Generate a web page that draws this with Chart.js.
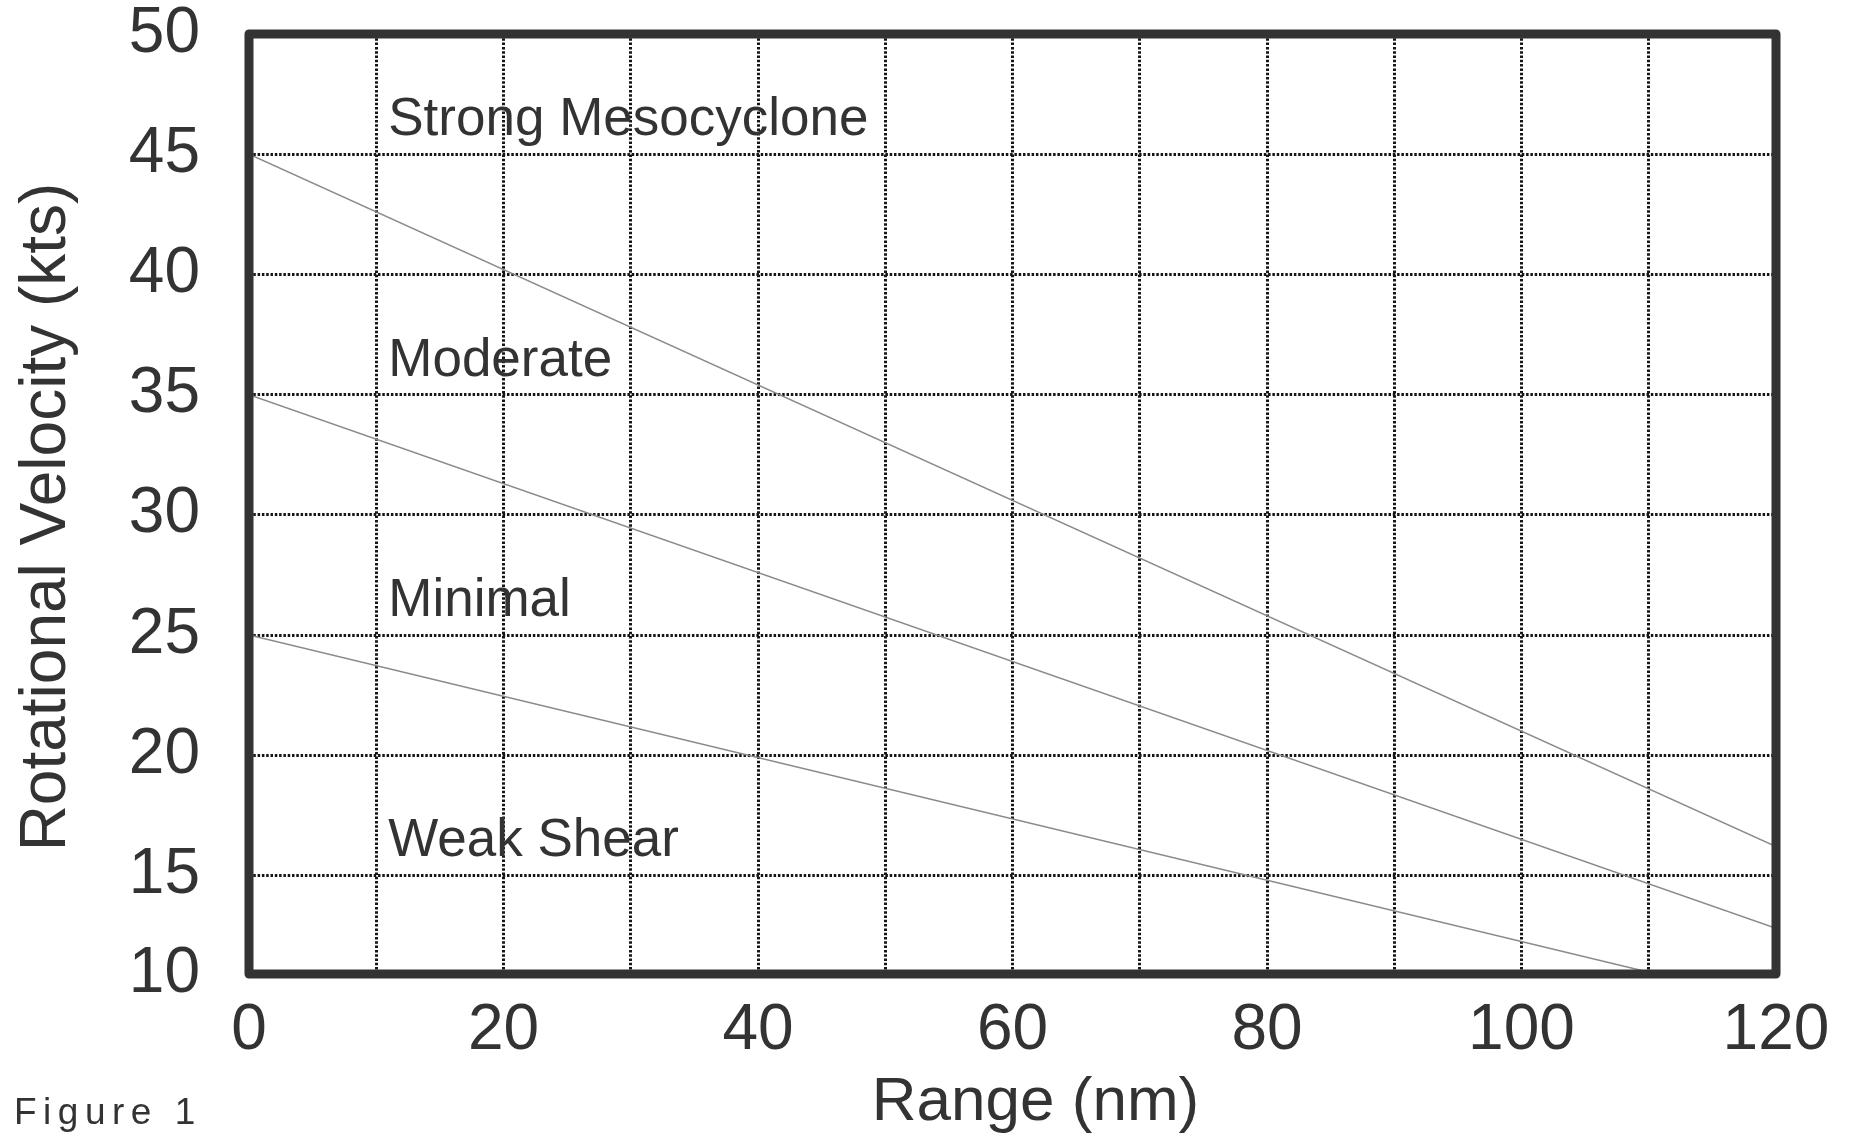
<!DOCTYPE html>
<html lang="en">
<head>
    <meta charset="UTF-8">
    <title>Rotational Velocity vs Range</title>
    <script src="https://cdnjs.cloudflare.com/ajax/libs/Chart.js/4.4.0/chart.umd.min.js"></script>
    <style>
        * {
            margin: 0;
            padding: 0;
            box-sizing: border-box;
        }

        body {
            background: #fff;
            width: 1860px;
            height: 1135px;
            overflow: hidden;
        }

        .chart-box {
            position: relative;
            width: 1860px;
            height: 1135px;
        }

        .fig-label {
            position: absolute;
            left: 14px;
            top: 1093px;
            font-family: 'Liberation Sans', Arial, sans-serif;
            font-size: 37px;
            line-height: 1;
            letter-spacing: 6.5px;
            color: #333;
        }
    </style>
</head>
<body>
    <div class="chart-box">
        <canvas id="shearChart"></canvas>
        <div class="fig-label">Figure 1</div>
    </div>

    <script>
        // values
        const rangeNm = [0, 120];
        const strongLine = [45, 16.2];
        const moderateLine = [35, 12.8];
        const minimalLine = [25, 9.7];

        const zoneNames = ['Strong Mesocyclone', 'Moderate', 'Minimal', 'Weak Shear'];
        const zoneLevels = [45, 35, 25, 15];
        const zoneLabelX = 10;

        const xTitle = 'Range (nm)';
        const yTitle = 'Rotational Velocity (kts)';

        // the printed axis squeezes the bottom band, so the "10" tick sits a bit above 10
        const yMin = 10.9;
        const yMax = 50;
        const yTicks = [yMin, 15, 20, 25, 30, 35, 40, 45, 50];

        const FONT = "'Liberation Sans', Arial, sans-serif";
        const TEXT = '#333';

        function toPoints(ys) {
            return rangeNm.map((x, i) => ({ x: x, y: ys[i] }));
        }

        // frame, zone names and axis titles (titles sit a little off-centre in the original)
        const frameAndLabels = {
            id: 'frameAndLabels',
            afterDatasetsDraw(chart) {
                const { ctx, chartArea: a, scales: { x, y } } = chart;
                ctx.save();
                ctx.font = '53px ' + FONT;
                ctx.fillStyle = TEXT;
                ctx.textBaseline = 'alphabetic';
                ctx.textAlign = 'left';
                zoneNames.forEach((name, i) => {
                    ctx.fillText(name, x.getPixelForValue(zoneLabelX) + 12, y.getPixelForValue(zoneLevels[i]) - 19);
                });

                ctx.textAlign = 'center';
                ctx.textBaseline = 'middle';
                ctx.font = '62px ' + FONT;
                ctx.fillText(xTitle, (a.left + a.right) / 2 + 23, chart.height - 32);

                ctx.save();
                ctx.font = '64px ' + FONT;
                ctx.translate(47, (a.top + a.bottom) / 2 + 13);
                ctx.rotate(-Math.PI / 2);
                ctx.fillText(yTitle, 0, 0);
                ctx.restore();

                ctx.lineWidth = 9;
                ctx.strokeStyle = '#333';
                ctx.lineJoin = 'round';
                ctx.strokeRect(a.left, a.top, a.right - a.left, a.bottom - a.top);
                ctx.restore();
            }
        };

        const lineStyle = {
            borderColor: '#8a8a8a',
            borderWidth: 1.5,
            pointRadius: 0,
            fill: false,
            tension: 0
        };

        new Chart(document.getElementById('shearChart'), {
            type: 'line',
            data: {
                datasets: [
                    { label: 'Strong', data: toPoints(strongLine), ...lineStyle },
                    { label: 'Moderate', data: toPoints(moderateLine), ...lineStyle },
                    { label: 'Minimal', data: toPoints(minimalLine), ...lineStyle }
                ]
            },
            options: {
                responsive: true,
                maintainAspectRatio: false,
                animation: false,
                layout: { padding: { top: 34, right: 84, bottom: 0, left: 0 } },
                plugins: {
                    legend: { display: false },
                    tooltip: { enabled: false }
                },
                scales: {
                    x: {
                        type: 'linear',
                        min: 0,
                        max: 120,
                        afterFit: (s) => {
                            s.height = 161;
                            s.paddingLeft = 0;
                            s.paddingRight = 0;
                        },
                        ticks: {
                            stepSize: 10,
                            autoSkip: false,
                            maxRotation: 0,
                            padding: 25,
                            color: TEXT,
                            font: { family: FONT, size: 64, lineHeight: 1 },
                            callback: (v) => (v % 20 === 0 ? v : '')
                        },
                        grid: {
                            color: '#161616',
                            lineWidth: 3,
                            drawTicks: false
                        },
                        border: { display: false, dash: [2.5, 1.8] },
                        title: { display: false }
                    },
                    y: {
                        type: 'linear',
                        min: yMin,
                        max: yMax,
                        afterFit: (s) => {
                            s.width = 249;
                            s.paddingTop = 0;
                            s.paddingBottom = 0;
                        },
                        afterBuildTicks: (s) => { s.ticks = yTicks.map(v => ({ value: v })); },
                        ticks: {
                            padding: 49,
                            color: TEXT,
                            font: { family: FONT, size: 64, lineHeight: 1 },
                            callback: (v) => (v === yMin ? '10' : v)
                        },
                        grid: {
                            color: '#161616',
                            lineWidth: 3,
                            drawTicks: false
                        },
                        border: { display: false, dash: [2.5, 1.8] },
                        title: { display: false }
                    }
                }
            },
            plugins: [frameAndLabels]
        });
    </script>
</body>
</html>
